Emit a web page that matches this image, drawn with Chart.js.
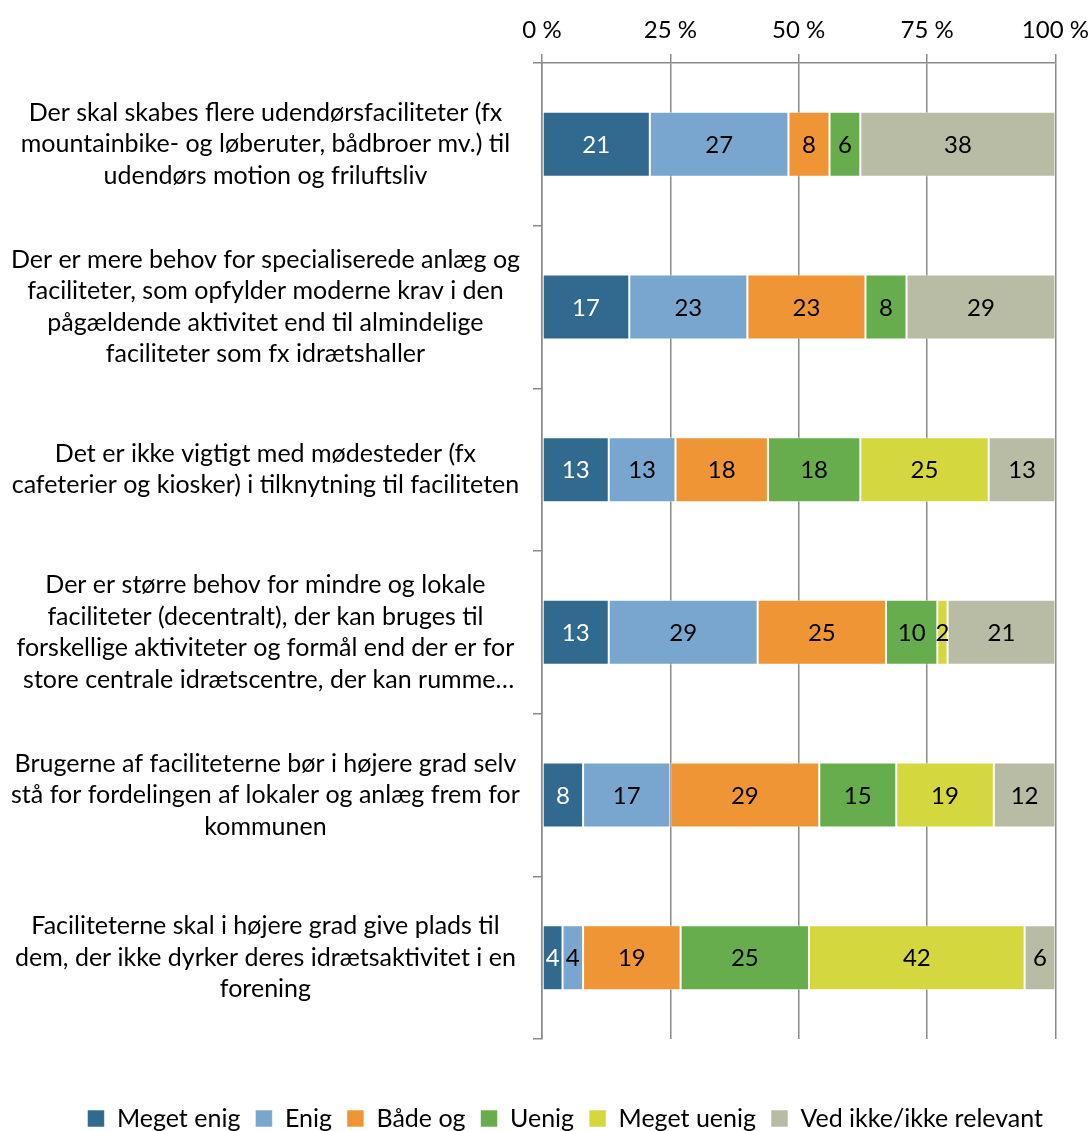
<!DOCTYPE html>
<html>
<head>
<meta charset="utf-8">
<script src="https://cdn.jsdelivr.net/npm/chart.js@4"></script>
<style>
    html, body { margin: 0; padding: 0; background: #fff; }
    #wrap { width: 1091px; height: 1131px; }
</style>
</head>
<body>
<div id="wrap"><canvas id="chart"></canvas></div>
<script>
const statements = [
    ["Der skal skabes flere udendørsfaciliteter (fx", "mountainbike- og løberuter, bådbroer mv.) til", "udendørs motion og friluftsliv"],
    ["Der er mere behov for specialiserede anlæg og", "faciliteter, som opfylder moderne krav i den", "pågældende aktivitet end til almindelige", "faciliteter som fx idrætshaller"],
    ["Det er ikke vigtigt med mødesteder (fx", "cafeterier og kiosker) i tilknytning til faciliteten"],
    ["Der er større behov for mindre og lokale", "faciliteter (decentralt), der kan bruges til", "forskellige aktiviteter og formål end der er for", " store centrale idrætscentre, der kan rumme…"],
    ["Brugerne af faciliteterne bør i højere grad selv", "stå for fordelingen af lokaler og anlæg frem for", "kommunen"],
    ["Faciliteterne skal i højere grad give plads til", "dem, der ikke dyrker deres idrætsaktivitet i en", "forening"]
];

const answers = ["Meget enig", "Enig", "Både og", "Uenig", "Meget uenig", "Ved ikke/ikke relevant"];
const meretEnig = [21, 17, 13, 13, 8, 4];
const enig = [27, 23, 13, 29, 17, 4];
const baadeOg = [8, 23, 18, 25, 29, 19];
const uenig = [6, 8, 18, 10, 15, 25];
const meretUenig = [0, 0, 25, 2, 19, 42];
const vedIkke = [38, 29, 13, 21, 12, 6];
const percentTicks = [0, 25, 50, 75, 100];

const colors = ["#31698f", "#79a6cf", "#ef9536", "#68ad4d", "#d4d83e", "#b8bca4"];
const labelColors = ["#ffffff", "#000000", "#000000", "#000000", "#000000", "#000000"];
const gridColor = "#8a8a8a";
const font = "Lato, 'Open Sans', sans-serif";

const series = [meretEnig, enig, baadeOg, uenig, meretUenig, vedIkke];

// writes each segment's value in the middle of the bar piece
const segmentLabels = {
    id: "segmentLabels",
    afterDatasetsDraw(chart) {
        const ctx = chart.ctx;
        ctx.save();
        ctx.font = `24px ${font}`;
        ctx.textAlign = "center";
        ctx.textBaseline = "middle";
        chart.data.datasets.forEach((dataset, i) => {
            const meta = chart.getDatasetMeta(i);
            meta.data.forEach((bar, j) => {
                const value = dataset.data[j];
                if (!value) return;
                const { x, y, base } = bar.getProps(["x", "y", "base"], true);
                ctx.fillStyle = labelColors[i];
                ctx.fillText(String(value), (x + base) / 2, y + 1);
            });
        });
        ctx.restore();
    }
};

new Chart(document.getElementById("chart"), {
    type: "bar",
    data: {
        labels: statements,
        datasets: answers.map((name, i) => ({
            label: name,
            data: series[i],
            backgroundColor: colors[i],
            borderColor: "rgba(255,255,255,0.55)",
            borderWidth: 1,
            borderSkipped: false,
            categoryPercentage: 1,
            barPercentage: 0.4
        }))
    },
    options: {
        indexAxis: "y",
        responsive: true,
        maintainAspectRatio: false,
        animation: false,
        layout: { padding: { top: 0, left: 0, right: 33, bottom: -10 } },
        scales: {
            x: {
                position: "top",
                stacked: true,
                min: 0,
                max: 100,
                afterBuildTicks: scale => { scale.ticks = percentTicks.map(value => ({ value })); },
                ticks: {
                    callback: value => value + " %",
                    color: "#000",
                    padding: 2,
                    font: { family: font, size: 24, lineHeight: 1.83 }
                },
                grid: { color: gridColor, lineWidth: 1.5, tickLength: 9 },
                border: { color: gridColor, width: 1.5 },
                afterFit: scale => { scale.height = 63; }
            },
            y: {
                stacked: true,
                grid: { offset: true, drawOnChartArea: false, color: gridColor, lineWidth: 1.5, tickLength: 9 },
                border: { color: gridColor, width: 1.5 },
                ticks: {
                    crossAlign: "center",
                    autoSkip: false,
                    color: "#000",
                    padding: 13,
                    font: { family: font, size: 25, lineHeight: 1.26 }
                },
                afterFit: scale => { scale.width = 542; }
            }
        },
        plugins: {
            tooltip: { enabled: false },
            legend: {
                position: "bottom",
                align: "end",
                title: { display: true, text: " ", font: { size: 10 }, padding: 20 },
                labels: {
                    color: "#000",
                    boxWidth: 17,
                    boxHeight: 17,
                    padding: 15,
                    font: { family: font, size: 25 }
                }
            }
        }
    },
    plugins: [segmentLabels]
});
</script>
</body>
</html>
